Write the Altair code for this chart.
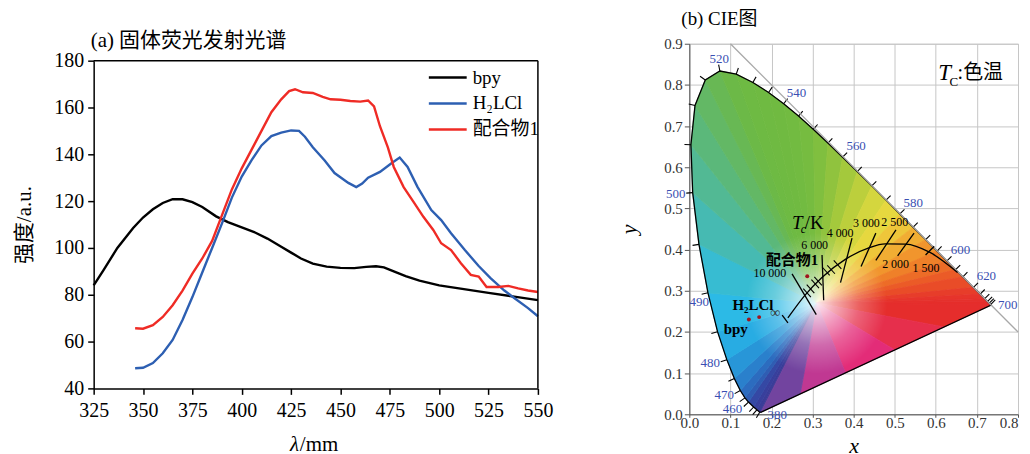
import math
import altair as alt
import pandas as pd

SERIF = "Liberation Serif"
MIX = "Liberation Serif, Noto Sans CJK SC"

# ---------------- panel (a): solid-state emission spectra ----------------
series_names = ["bpy", "H₂LCl", "配合物1"]
series_colors = ["#000000", "#2d5fb2", "#ef2b25"]

bpy_nm = [325, 330, 337, 345, 350, 355, 360, 365, 370, 375, 380, 387, 393, 400, 407, 413,
          420, 425, 430, 436, 443, 450, 457, 463, 468, 472, 477, 483, 490, 500, 510, 525, 538, 550]
bpy_val = [84, 90.5, 100, 108.5, 113, 116.5, 119.2, 120.8, 120.8, 119.6, 117.5, 113.5, 111,
           108.8, 106.5, 104, 100.5, 98, 95.5, 93.3, 92, 91.5, 91.4, 91.9, 92.2, 91.7, 90,
           88, 86, 84, 82.7, 80.8, 79.2, 77.7]

h2l_nm = [346, 350, 355, 360, 365, 370, 375, 380, 385, 390, 395, 400, 405, 410, 415, 420, 425,
          429, 432, 436, 442, 447, 454, 458, 461, 464, 470, 476, 480, 484, 489, 496, 501, 506,
          513, 520, 526, 533, 538, 545, 550]
h2l_val = [48.6, 48.8, 50.8, 55, 60.7, 69.2, 79, 89.5, 100, 110.5, 121.5, 130.5, 137.5, 143.8,
           147.8, 149.3, 150.2, 150, 147.5, 143, 137.4, 132, 127.8, 126, 127.5, 130, 132.5,
           136.3, 138.6, 134.6, 126.1, 116.2, 111.9, 106.3, 99.1, 92.3, 87.1, 81.8, 78.6, 74.3, 70.8]

cp1_nm = [346, 350, 355, 360, 365, 370, 375, 380, 385, 390, 395, 400, 405, 410, 415, 420, 424,
          427, 431, 436, 441, 445, 450, 455, 460, 464, 467, 470, 474, 477, 482, 487, 492, 497,
          501, 506, 511, 516, 520, 524, 530, 535, 540, 545, 550]
cp1_val = [65.7, 65.5, 67, 70.5, 75.5, 81.8, 89, 95.5, 103, 114, 125, 134, 142, 150, 158, 163.5,
           167, 167.8, 166.5, 166.2, 164.5, 163.5, 163.3, 162.8, 162.5, 163, 160.5, 152, 143,
           134.6, 126, 119.7, 113.3, 107.7, 102, 99.1, 93.5, 88.5, 87.8, 83.3, 83.3, 83.8, 82.7,
           81.8, 81.2]

xticks_a = [325, 350, 375, 400, 425, 450, 475, 500, 525, 550]
yticks_a = [40, 60, 80, 100, 120, 140, 160, 180]
x_dom_a = [325, 550]
y_dom_a = [40, 180]

rows = []
for name, xs_, ys_ in [(series_names[0], bpy_nm, bpy_val),
                       (series_names[1], h2l_nm, h2l_val),
                       (series_names[2], cp1_nm, cp1_val)]:
    for a, b in zip(xs_, ys_):
        rows.append({"series": name, "nm": a, "val": b})
df_a = pd.DataFrame(rows)

WA, HA, TOP_A = 446, 346, 17   # plot box spans rows TOP_A..HA of the panel

XA = alt.X("nm:Q", scale=alt.Scale(domain=x_dom_a, nice=False, zero=False),
           axis=alt.Axis(values=xticks_a, title=None, labelFont=SERIF, labelFontSize=20,
                         labelColor="black", labelPadding=6, labelFlush=False,
                         domainColor="black", domainWidth=1.5, tickColor="black",
                         tickWidth=1.5, tickSize=6, grid=False))
YA = alt.Y("val:Q", scale=alt.Scale(domain=y_dom_a, nice=False, zero=False, range=[HA, TOP_A]),
           axis=alt.Axis(values=yticks_a, title="强度/a.u.", labelFont=SERIF, labelFontSize=20,
                         labelColor="black", labelPadding=4, labelFlush=False,
                         domainColor="black", domainWidth=1.5, tickColor="black",
                         tickWidth=1.5, tickSize=6, grid=False,
                         titleFont=MIX, titleFontSize=21, titleFontWeight="normal",
                         titleColor="black", titlePadding=19))

lines_a = alt.Chart(df_a).mark_line(strokeWidth=2.4).encode(
    x=XA, y=YA,
    color=alt.Color("series:N", sort=series_names,
                    scale=alt.Scale(domain=series_names, range=series_colors),
                    legend=alt.Legend(title=None, orient="none", legendX=344.5, legendY=23,
                                      symbolType="M-2,0H2", symbolSize=361,
                                      symbolStrokeWidth=2.5, labelFont=MIX, labelFontSize=19,
                                      labelColor="black", labelOffset=14, rowPadding=5,
                                      padding=0)),
)

frame_top = alt.Chart(pd.DataFrame({"a": [0]})).mark_rule(color="black", strokeWidth=1.5).encode(
    x=alt.datum(x_dom_a[0]), x2=alt.datum(x_dom_a[1]), y=alt.datum(y_dom_a[1]))
frame_right = alt.Chart(pd.DataFrame({"a": [0]})).mark_rule(color="black", strokeWidth=1.5).encode(
    x=alt.datum(x_dom_a[1]), y=alt.datum(y_dom_a[0]), y2=alt.datum(y_dom_a[1]))

lam_text = alt.Chart(pd.DataFrame({"t": ["λ"]})).mark_text(
    font=SERIF, fontSize=21, fontStyle="italic", align="left", baseline="alphabetic",
    color="black").encode(x=alt.value(197), y=alt.value(409), text="t:N")
mm_text = alt.Chart(pd.DataFrame({"t": ["/mm"]})).mark_text(
    font=SERIF, fontSize=21, align="left", baseline="alphabetic", color="black").encode(
    x=alt.value(207), y=alt.value(409), text="t:N")
title_a = alt.Chart(pd.DataFrame({"t": ["(a) 固体荧光发射光谱"]})).mark_text(
    font=MIX, fontSize=21, align="left", baseline="middle", color="black").encode(
    x=alt.value(-3), y=alt.value(-3), text="t:N")

left = alt.layer(lines_a, frame_top, frame_right, lam_text, mm_text, title_a).properties(
    width=WA, height=HA)

# ---------------- panel (b): CIE 1931 chromaticity diagram ----------------
locus_wl = [380, 420, 440, 450, 460, 465, 470, 475, 480, 485, 490, 495, 500, 505, 510, 515, 520,
            525, 530, 535, 540, 545, 550, 555, 560, 565, 570, 575, 580, 585, 590, 595, 600, 605,
            610, 620, 630, 640, 650, 660, 680, 700]
locus_x = [0.1741, 0.1714, 0.1644, 0.1566, 0.1440, 0.1355, 0.1241, 0.1096, 0.0913, 0.0687,
           0.0454, 0.0235, 0.0082, 0.0039, 0.0139, 0.0389, 0.0743, 0.1142, 0.1547, 0.1929,
           0.2296, 0.2658, 0.3016, 0.3373, 0.3731, 0.4087, 0.4441, 0.4788, 0.5125, 0.5448,
           0.5752, 0.6029, 0.6270, 0.6482, 0.6658, 0.6915, 0.7079, 0.7190, 0.7260, 0.7300,
           0.7334, 0.7347]
locus_y = [0.0050, 0.0051, 0.0109, 0.0177, 0.0297, 0.0399, 0.0578, 0.0868, 0.1327, 0.2007,
           0.2950, 0.4127, 0.5384, 0.6548, 0.7502, 0.8120, 0.8338, 0.8262, 0.8059, 0.7816,
           0.7543, 0.7243, 0.6923, 0.6589, 0.6245, 0.5896, 0.5547, 0.5202, 0.4866, 0.4544,
           0.4242, 0.3965, 0.3725, 0.3514, 0.3340, 0.3083, 0.2920, 0.2809, 0.2740, 0.2700,
           0.2666, 0.2653]
locus_colors = ["#3a3b95", "#3a3d98", "#383f9c", "#3548a4", "#2f5db3", "#2c6cbf", "#2a80cc",
                "#2896d8", "#28ace3", "#2cbae6", "#37bcd2", "#46bab2", "#52b994", "#5bb87a",
                "#63b865", "#68b854", "#6cb947", "#6eba43", "#6fba42", "#70ba41", "#72bb41",
                "#76bc40", "#80bf3f", "#90c33e", "#a4c93c", "#bccf3c", "#d4d63e", "#e6d83f",
                "#eec63a", "#f1ad33", "#f1952d", "#ef8029", "#ed6c27", "#eb5b27", "#e94c28",
                "#e73d2a", "#e6342b", "#e5302c", "#e52e2c", "#e52e2c", "#e52d2c", "#e52d2c"]
purple_x = [0.62, 0.50, 0.38, 0.27]
purple_y = [0.2122, 0.1563, 0.1006, 0.0495]
purple_colors = ["#e62f4c", "#e32c78", "#c03892", "#72449f"]
white_x, white_y = [0.31], [0.27]

planck_T = ["∞", "10000", "6000", "4000", "3000", "2500", "2000", "1500", "1000"]
planck_x = [0.2399, 0.2807, 0.3221, 0.3805, 0.4369, 0.4770, 0.5267, 0.5857, 0.6528]
planck_y = [0.2341, 0.2884, 0.3318, 0.3768, 0.4041, 0.4137, 0.4133, 0.3931, 0.3444]
minor_x = [0.2866, 0.2950, 0.3064, 0.3135, 0.3324, 0.3451, 0.3608]
minor_y = [0.2950, 0.3048, 0.3166, 0.3236, 0.3475, 0.3516, 0.3636]
iso_name = ["inf", "10000", "6000", "4000", "3000", "2500", "2000", "1500"]
iso_x1 = [0.226, 0.250, 0.323, 0.396, 0.454, 0.503, 0.547, 0.596]
iso_y1 = [0.241, 0.341, 0.387, 0.428, 0.440, 0.448, 0.440, 0.408]
iso_x2 = [0.240, 0.309, 0.327, 0.368, 0.418, 0.454, 0.507, 0.575]
iso_y2 = [0.222, 0.242, 0.277, 0.320, 0.359, 0.374, 0.385, 0.387]

temp_labels = ["10 000", "6 000", "4 000", "3 000", "2 500", "2 000", "1 500"]
temp_lx = [0.196, 0.305, 0.367, 0.431, 0.500, 0.502, 0.576]
temp_ly = [0.343, 0.412, 0.441, 0.464, 0.466, 0.365, 0.355]

wl_labels = ["520", "540", "560", "580", "600", "620", "700", "500", "490", "480", "470", "460", "380"]
wl_lx = [0.073, 0.261, 0.406, 0.545, 0.660, 0.723, 0.775, -0.033, 0.024, 0.051, 0.085, 0.105, 0.214]
wl_ly = [0.864, 0.780, 0.652, 0.512, 0.398, 0.335, 0.266, 0.536, 0.273, 0.125, 0.048, 0.014, -0.001]

samples = ["bpy", "H₂LCl", "配合物1"]
sample_x = [0.145, 0.170, 0.287]
sample_y = [0.230, 0.236, 0.335]
sample_lx = [0.113, 0.155, 0.250]
sample_ly = [0.207, 0.266, 0.375]

diag_x = [0.1, 0.8]
diag_y = [0.9, 0.2]

bx = locus_x + purple_x
by = locus_y + purple_y
bc = locus_colors + purple_colors
tri_rows = []
nb = len(bx)
for i in range(nb):
    j = (i + 1) % nb
    for k, (px, py) in enumerate([(white_x[0], white_y[0]), (bx[i], by[i]), (bx[j], by[j])]):
        tri_rows.append({"tri": i, "k": k, "x": px, "y": py, "col": bc[i]})
tri_df = pd.DataFrame(tri_rows)

# outward tick marks along the spectral locus (orientation follows the curve)
tick_rows = []
for i in range(1, len(locus_x) - 1):
    dx = locus_x[i + 1] - locus_x[i - 1]
    dy = locus_y[i + 1] - locus_y[i - 1]
    ang = (-(math.degrees(math.atan2(dy, dx)) + 90)) % 360
    tick_rows.append({"x": locus_x[i], "y": locus_y[i], "ang": ang})
tick_df = pd.DataFrame(tick_rows)

xt = [round(0.05 * i, 2) for i in range(17)]
yt = [round(0.05 * i, 2) for i in range(19)]
label_expr = "round(datum.value*100)%10==0 ? format(datum.value,'.1f') : ''"
tick_op = {"condition": {"test": "round(datum.value*100)%10!=0", "value": 0}, "value": 1}
x_align = {"condition": {"test": "datum.value>0.79", "value": "right"}, "value": "center"}

xs = alt.Scale(domain=[0, 0.8], nice=False, zero=False)
ys = alt.Scale(domain=[0, 0.9], nice=False, zero=False)
X = alt.X("x:Q", scale=xs, axis=alt.Axis(
    values=xt, labelExpr=label_expr, grid=True, gridColor="#c6c6c6", gridWidth=1,
    tickOpacity=tick_op, tickColor="#555", tickSize=3, domainColor="#555", domainWidth=1,
    labelFont=SERIF, labelFontSize=15, labelColor="#333", labelPadding=-2, labelFlush=False,
    labelAlign=x_align, labelOverlap=False, title="x", titleFont=SERIF, titleFontStyle="italic",
    titleFontSize=22, titleFontWeight="normal", titleColor="black", titlePadding=5))
Y = alt.Y("y:Q", scale=ys, axis=alt.Axis(
    values=yt, labelExpr=label_expr, grid=True, gridColor="#c6c6c6", gridWidth=1,
    tickOpacity=tick_op, tickColor="#555", tickSize=5, domainColor="#555", domainWidth=1,
    labelFont=SERIF, labelFontSize=15, labelColor="#333", labelPadding=2, labelFlush=False,
    labelOverlap=False, title="y", titleFont=SERIF, titleFontStyle="italic",
    titleFontSize=22, titleFontWeight="normal", titleColor="black", titlePadding=23))

fan = alt.Chart(tri_df).mark_line(interpolate="linear-closed", strokeWidth=0.8).encode(
    x=X, y=Y, order="k:O", detail="tri:N",
    fill=alt.Fill("col:N", scale=None), stroke=alt.Stroke("col:N", scale=None))

glow = alt.Chart(pd.DataFrame({"x": white_x, "y": white_y})).mark_point(
    shape="circle", filled=True, size=20000, opacity=1, strokeWidth=0,
    fill=alt.RadialGradient(gradient="radial", stops=[
        alt.GradientStop(color="rgba(255,255,255,0.9)", offset=0),
        alt.GradientStop(color="rgba(255,255,255,0.6)", offset=0.25),
        alt.GradientStop(color="rgba(255,255,255,0.25)", offset=0.6),
        alt.GradientStop(color="rgba(255,255,255,0)", offset=1)])).encode(x="x:Q", y="y:Q")

locus_df = pd.DataFrame({"x": locus_x, "y": locus_y, "i": list(range(len(locus_x)))})
outline = alt.Chart(locus_df).mark_line(interpolate="linear-closed", color="black",
                                        strokeWidth=1.3).encode(x="x:Q", y="y:Q", order="i:Q")

locus_ticks = alt.Chart(tick_df).mark_point(
    shape="M0,0H2", size=42, filled=False, color="black", strokeWidth=1.1, opacity=1).encode(
    x="x:Q", y="y:Q", angle=alt.Angle("ang:Q", scale=None))

diag = alt.Chart(pd.DataFrame({"x": diag_x, "y": diag_y})).mark_line(
    color="#a8a8a8", strokeWidth=1.3).encode(x="x:Q", y="y:Q")

planck = alt.Chart(pd.DataFrame({"x": planck_x, "y": planck_y})).mark_line(
    color="black", strokeWidth=1.3, interpolate="monotone").encode(x="x:Q", y="y:Q")

iso_rows = []
for n, a1, b1, a2, b2 in zip(iso_name, iso_x1, iso_y1, iso_x2, iso_y2):
    iso_rows += [{"seg": n, "x": a1, "y": b1, "k": 0}, {"seg": n, "x": a2, "y": b2, "k": 1}]
iso = alt.Chart(pd.DataFrame(iso_rows)).mark_line(color="black", strokeWidth=1.3).encode(
    x="x:Q", y="y:Q", detail="seg:N", order="k:O")

minor = alt.Chart(pd.DataFrame({"x": minor_x, "y": minor_y})).mark_point(
    shape="stroke", angle=48, size=130, color="black", strokeWidth=1.1, opacity=1).encode(
    x="x:Q", y="y:Q")

temp_txt = alt.Chart(pd.DataFrame({"x": temp_lx, "y": temp_ly, "t": temp_labels})).mark_text(
    font=SERIF, fontSize=12, color="black").encode(x="x:Q", y="y:Q", text="t:N")

wl_txt = alt.Chart(pd.DataFrame({"x": wl_lx, "y": wl_ly, "t": wl_labels})).mark_text(
    font=SERIF, fontSize=13, color="#3a4fb2").encode(x="x:Q", y="y:Q", text="t:N")

dots = alt.Chart(pd.DataFrame({"x": sample_x, "y": sample_y})).mark_circle(
    size=16, color="#a0141e", opacity=1).encode(x="x:Q", y="y:Q")

sample_txt = alt.Chart(pd.DataFrame({"x": sample_lx, "y": sample_ly, "t": samples})).mark_text(
    font=MIX, fontSize=15, fontWeight="bold", color="black").encode(x="x:Q", y="y:Q", text="t:N")

inf_txt = alt.Chart(pd.DataFrame({"x": [0.209], "y": [0.247], "t": ["∞"]})).mark_text(
    font=SERIF, fontSize=14, color="#333").encode(x="x:Q", y="y:Q", text="t:N")

tck = [
    alt.Chart(pd.DataFrame({"x": [0.250], "y": [0.464], "t": ["T"]})).mark_text(
        font=SERIF, fontSize=19, fontStyle="italic", align="left", color="black"),
    alt.Chart(pd.DataFrame({"x": [0.271], "y": [0.451], "t": ["c"]})).mark_text(
        font=SERIF, fontSize=12, fontStyle="italic", align="left", color="black"),
    alt.Chart(pd.DataFrame({"x": [0.281], "y": [0.464], "t": ["/K"]})).mark_text(
        font=SERIF, fontSize=19, align="left", color="black"),
    alt.Chart(pd.DataFrame({"x": [0.606], "y": [0.828], "t": ["T"]})).mark_text(
        font=SERIF, fontSize=23, fontStyle="italic", align="left", color="black"),
    alt.Chart(pd.DataFrame({"x": [0.633], "y": [0.807], "t": ["C"]})).mark_text(
        font=SERIF, fontSize=13, align="left", color="black"),
    alt.Chart(pd.DataFrame({"x": [0.653], "y": [0.828], "t": [":色温"]})).mark_text(
        font=MIX, fontSize=20, align="left", color="black"),
]
tck = [c.encode(x="x:Q", y="y:Q", text="t:N") for c in tck]

title_b = alt.Chart(pd.DataFrame({"t": ["(b) CIE图"]})).mark_text(
    font=MIX, fontSize=19, align="left", baseline="middle", color="black").encode(
    x=alt.value(-8), y=alt.value(-25), text="t:N")

right = alt.layer(fan, glow, outline, locus_ticks, diag, planck, iso, minor, temp_txt, wl_txt,
                  dots, sample_txt, inf_txt, *tck, title_b).properties(
    width=330, height=372,
    view=alt.ViewBackground(stroke="#c6c6c6", strokeWidth=1),
)

chart = alt.hconcat(left, right, spacing=64).properties(
    padding={"left": 6, "top": 0, "right": 0, "bottom": 0}
).configure_view(strokeWidth=0)

chart.save("out.html", embed_options={"renderer": "svg", "actions": False})
